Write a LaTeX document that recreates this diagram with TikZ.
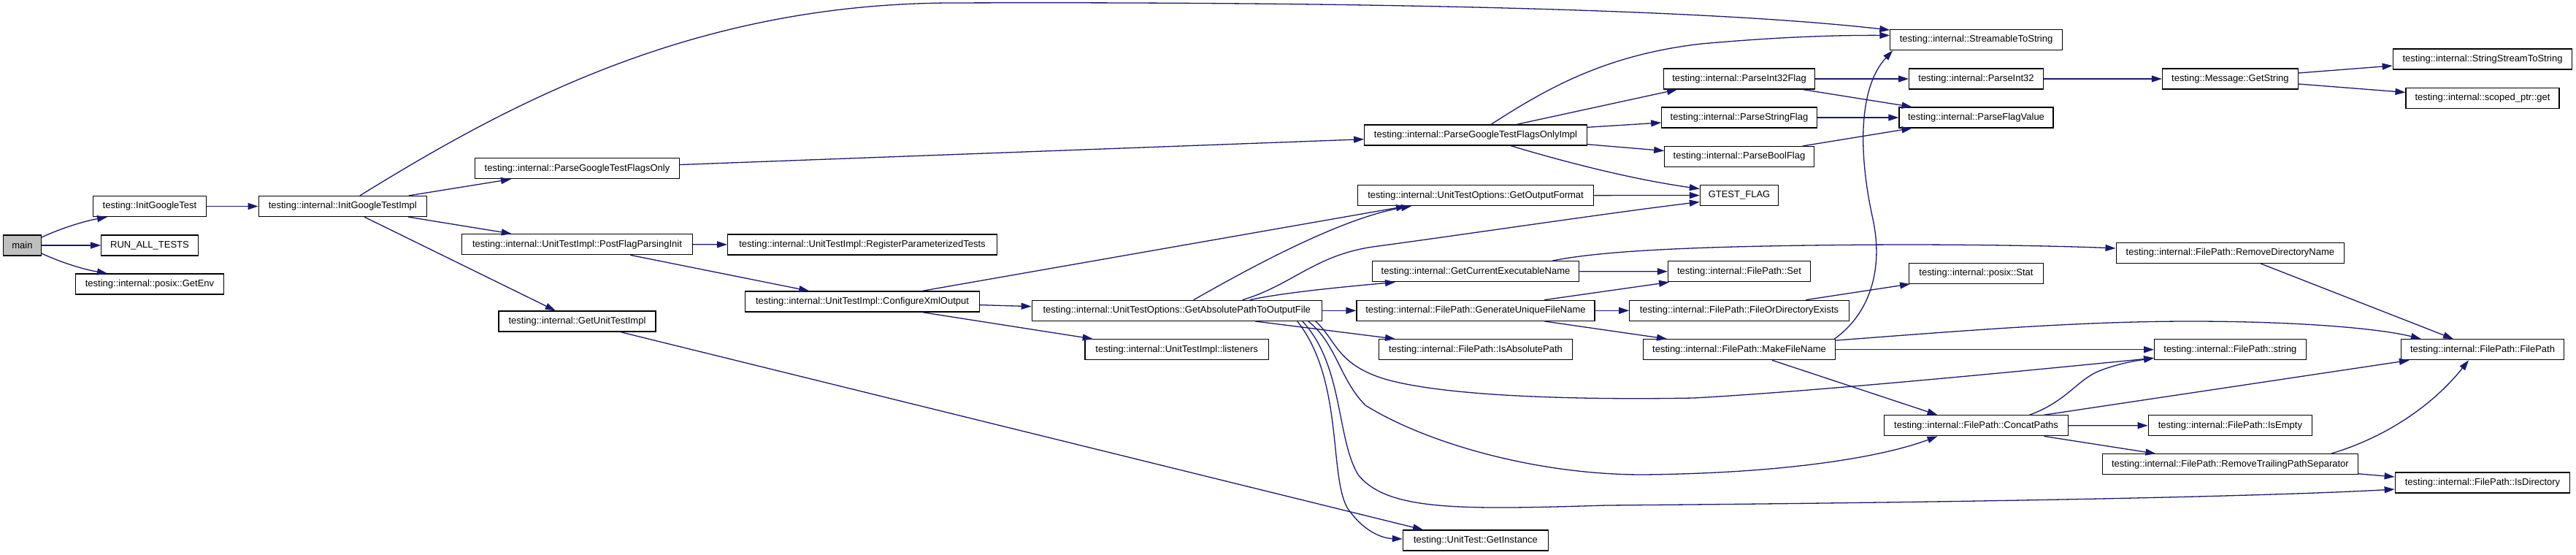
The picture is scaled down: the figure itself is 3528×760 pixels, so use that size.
\documentclass[tikz,border=0pt]{standalone}
\usepackage{fontspec}
\setmainfont{Liberation Sans}
\usetikzlibrary{arrows.meta}
\definecolor{edgeblue}{HTML}{191970}
\definecolor{mainfill}{HTML}{BFBFBF}
\newcommand\nodefont{\fontsize{13}{15}\selectfont}
\begin{document}
\begin{tikzpicture}[x=1pt,y=-1pt,
  fn/.style={draw=black, line width=1.2pt, fill=white, minimum height=28pt,
    inner xsep=2pt, inner ysep=0pt, font=\nodefont, anchor=center},
  ed/.style={draw=edgeblue, line width=1.3pt, -{Triangle[length=14pt,width=9pt]}}]
\useasboundingbox (0,0) rectangle (3528,760);
% rank 0-2
\node[fn, fill=mainfill, minimum width=51.7pt] (main) at (30.4,336) {main};
\node[fn, minimum width=155pt] (igt) at (205,282.5) {testing::InitGoogleTest};
\node[fn, minimum width=132.4pt] (rat) at (205,336) {RUN\_ALL\_TESTS};
\node[fn, minimum width=203.2pt] (genv) at (205,389) {testing::internal::posix::GetEnv};
\node[fn, minimum width=230pt] (igti) at (469.3,282.5) {testing::internal::InitGoogleTestImpl};
% rank 3
\node[fn, minimum width=279.3pt] (pgtfo) at (790.5,230.7) {testing::internal::ParseGoogleTestFlagsOnly};
\node[fn, minimum width=316.1pt] (pfpi) at (790.5,334.7) {testing::internal::UnitTestImpl::PostFlagParsingInit};
\node[fn, minimum width=215.1pt] (guti) at (790.5,440) {testing::internal::GetUnitTestImpl};
% rank 4
\node[fn, minimum width=368.8pt] (rpt) at (1181,335) {testing::internal::UnitTestImpl::RegisterParameterizedTests};
\node[fn, minimum width=320.6pt] (cxo) at (1181,413) {testing::internal::UnitTestImpl::ConfigureXmlOutput};
% rank 5
\node[fn, minimum width=397pt] (gap) at (1611.7,425.3) {testing::internal::UnitTestOptions::GetAbsolutePathToOutputFile};
\node[fn, minimum width=251.4pt] (lis) at (1611.7,478.7) {testing::internal::UnitTestImpl::listeners};
% rank 6
\node[fn, minimum width=304.6pt] (pgtfoi) at (2021,185) {testing::internal::ParseGoogleTestFlagsOnlyImpl};
\node[fn, minimum width=323.3pt] (gof) at (2021,267.7) {testing::internal::UnitTestOptions::GetOutputFormat};
\node[fn, minimum width=283.5pt] (gcen) at (2021,371.7) {testing::internal::GetCurrentExecutableName};
\node[fn, minimum width=326pt] (gufn) at (2021,425.3) {testing::internal::FilePath::GenerateUniqueFileName};
\node[fn, minimum width=264.7pt] (iap) at (2021,478.7) {testing::internal::FilePath::IsAbsolutePath};
\node[fn, minimum width=199.4pt] (ginst) at (2021,740) {testing::UnitTest::GetInstance};
% rank 7
\node[fn, minimum width=206.9pt] (pi32f) at (2382,108) {testing::internal::ParseInt32Flag};
\node[fn, minimum width=212.4pt] (psf) at (2382,161) {testing::internal::ParseStringFlag};
\node[fn, minimum width=204.5pt] (pbf) at (2382,214.5) {testing::internal::ParseBoolFlag};
\node[fn, minimum width=107.2pt] (gflag) at (2382,267.5) {GTEST\_FLAG};
\node[fn, minimum width=195pt] (set) at (2382,371.8) {testing::internal::FilePath::Set};
\node[fn, minimum width=300.4pt] (fode) at (2382,425.3) {testing::internal::FilePath::FileOrDirectoryExists};
\node[fn, minimum width=263.6pt] (mfn) at (2382,478.7) {testing::internal::FilePath::MakeFileName};
% rank 8
\node[fn, minimum width=235.3pt] (sts) at (2706.5,54.5) {testing::internal::StreamableToString};
\node[fn, minimum width=183.7pt] (pi32) at (2706.5,108) {testing::internal::ParseInt32};
\node[fn, minimum width=211.1pt] (pfv) at (2706.5,161) {testing::internal::ParseFlagValue};
\node[fn, minimum width=183.7pt] (stat) at (2706.5,374.3) {testing::internal::posix::Stat};
\node[fn, minimum width=251.4pt] (cp) at (2706.5,582.8) {testing::internal::FilePath::ConcatPaths};
% rank 9
\node[fn, minimum width=185.8pt] (gstr) at (3054.4,108) {testing::Message::GetString};
\node[fn, minimum width=312.6pt] (rdn) at (3054.4,346.5) {testing::internal::FilePath::RemoveDirectoryName};
\node[fn, minimum width=207.4pt] (fstr) at (3054.4,478.7) {testing::internal::FilePath::string};
\node[fn, minimum width=224.3pt] (isem) at (3054.4,582.7) {testing::internal::FilePath::IsEmpty};
\node[fn, minimum width=349.8pt] (rtps) at (3054.4,635.8) {testing::internal::FilePath::RemoveTrailingPathSeparator};
% rank 10
\node[fn, minimum width=245.5pt] (ssts) at (3400,81) {testing::internal::StringStreamToString};
\node[fn, minimum width=209.9pt] (sget) at (3400,134.5) {testing::internal::scoped\_ptr::get};
\node[fn, minimum width=223.1pt] (fpfp) at (3400,478.7) {testing::internal::FilePath::FilePath};
\node[fn, minimum width=239.6pt] (isdir) at (3400,661) {testing::internal::FilePath::IsDirectory};

% edges
\draw[ed] ([yshift=11pt]main.east) .. controls (85,312) and (115,303) .. ([xshift=-58pt]igt.south);
\draw[ed] (main) -- (rat);
\draw[ed] ([yshift=-11pt]main.east) .. controls (85,360) and (115,369) .. ([xshift=-58pt]genv.north);
\draw[ed] (igt) -- (igti);
\draw[ed] (igti) .. controls (700,140) and (950,6) .. (1300,4) .. controls (1900,2) and (2350,14) .. (sts);
\draw[ed] (igti) -- (pgtfo);
\draw[ed] (igti) -- (pfpi);
\draw[ed] (igti) -- (guti);
\draw[ed] (pgtfo) -- (pgtfoi);
\draw[ed] (pfpi) -- (rpt);
\draw[ed] (pfpi) -- (cxo);
\draw[ed] (guti) -- ([xshift=-72pt]ginst.north);
\draw[ed] ([xshift=82pt]cxo.north) -- ([xshift=-95pt]gof.south);
\draw[ed] (cxo) -- (gap);
\draw[ed] ([xshift=82pt]cxo.south) -- ([xshift=-115pt]lis.north);
% from GetAbsolutePathToOutputFile
\draw[ed] ([xshift=23pt]gap.north) .. controls (1720,362) and (1840,298) .. ([xshift=-88pt]gof.south);
\draw[ed] ([xshift=90pt]gap.north) .. controls (1770,390) and (1800,350) .. (1880,338) .. controls (2000,322) and (2200,292) .. ([yshift=-9pt]gflag.west);
\draw[ed] ([xshift=100pt]gap.north) .. controls (1760,400) and (1850,392) .. ([xshift=-110pt]gcen.south);
\draw[ed] (gap) -- (gufn);
\draw[ed] ([xshift=107pt]gap.south) -- ([xshift=-110pt]iap.north);
\draw[ed] ([xshift=190pt]gap.south) .. controls (1830,465) and (1830,500) .. (1900,520) .. controls (1980,542) and (2150,548) .. (2320,545) .. controls (2500,535) and (2800,505) .. ([yshift=3pt]fstr.south west);
\draw[ed] ([xshift=180pt]gap.south) .. controls (1830,470) and (1835,520) .. (1870,555) .. controls (1950,605) and (2100,650) .. (2250,650) .. controls (2450,648) and (2580,625) .. ([xshift=-53pt]cp.south);
\draw[ed] ([xshift=172pt]gap.south) .. controls (1840,500) and (1830,600) .. (1860,650) .. controls (1900,700) and (2000,698) .. (2200,692) .. controls (2700,688) and (3100,680) .. ([yshift=-9pt]isdir.west);
\draw[ed] ([xshift=165pt]gap.south) .. controls (1840,520) and (1820,650) .. (1845,695) .. controls (1865,725) and (1890,737) .. ([yshift=2pt]ginst.west);
% from ParseGoogleTestFlagsOnlyImpl
\draw[ed] ([xshift=21pt]pgtfoi.north) .. controls (2120,120) and (2200,75) .. (2330,60) .. controls (2420,52) and (2500,48) .. ([yshift=6pt]sts.west);
\draw[ed] ([xshift=56pt]pgtfoi.north) -- ([xshift=-85pt]pi32f.south);
\draw[ed] ([yshift=10.7pt]pgtfoi.east) -- ([yshift=-7pt]psf.west);
\draw[ed] ([yshift=-12.7pt]pgtfoi.east) -- ([yshift=8pt]pbf.west);
\draw[ed] ([xshift=48pt]pgtfoi.south) .. controls (2130,218) and (2230,245) .. ([yshift=9pt]gflag.west);
\draw[ed] (gof) -- (gflag);
% rank 6 others
\draw[ed] (gcen) -- (set);
\draw[ed] ([xshift=105pt]gcen.north) .. controls (2200,342) and (2350,336) .. (2600,335) .. controls (2750,335) and (2850,338) .. ([yshift=6.5pt]rdn.west);
\draw[ed] ([xshift=94pt]gufn.north) -- ([xshift=-96pt]set.south);
\draw[ed] (gufn) -- (fode);
\draw[ed] ([xshift=94pt]gufn.south) -- ([xshift=-99pt]mfn.north);
% rank 7
\draw[ed] ([xshift=91pt]fode.north) -- ([xshift=2pt]stat.south west);
\draw[ed] ([xshift=-2pt]mfn.north east) .. controls (2560,430) and (2580,370) .. (2565,300) .. controls (2545,210) and (2545,120) .. ([xshift=4pt]sts.south west);
\draw[ed] ([yshift=-2pt]mfn.north east) .. controls (2700,452) and (2850,440) .. (3000,440) .. controls (3150,440) and (3260,450) .. ([xshift=28pt]fpfp.north west);
\draw[ed] (mfn) -- (fstr);
\draw[ed] ([xshift=45pt]mfn.south) -- ([xshift=-53pt]cp.north);
\draw[ed] (pi32f) -- (pi32);
\draw[ed] ([xshift=87pt]pi32f.south) -- ([xshift=-88pt]pfv.north);
\draw[ed] (psf) -- (pfv);
\draw[ed] ([xshift=87pt]pbf.north) -- ([xshift=-88pt]pfv.south);
% rank 8-9
\draw[ed] (pi32) -- (gstr);
\draw[ed] ([yshift=8pt]gstr.east) -- ([yshift=-9pt]ssts.west);
\draw[ed] ([yshift=-7pt]gstr.east) -- ([yshift=8pt]sget.west);
\draw[ed] ([xshift=42pt]rdn.south) -- ([xshift=-40pt]fpfp.north);
\draw[ed] ([xshift=73pt]cp.north) .. controls (2830,550) and (2845,520) .. (2875,508) .. controls (2900,498) and (2925,494) .. ([yshift=3pt]fstr.south west);
\draw[ed] ([xshift=93pt]cp.north) -- ([xshift=12pt]fpfp.south west);
\draw[ed] (cp) -- (isem);
\draw[ed] ([xshift=93pt]cp.south) -- ([xshift=-102pt]rtps.north);
\draw[ed] ([xshift=138pt]rtps.north) .. controls (3280,595) and (3340,545) .. ([xshift=-19pt]fpfp.south);
\draw[ed] ([yshift=-13pt]rtps.east) -- ([yshift=8pt]isdir.west);
\end{tikzpicture}
\end{document}
